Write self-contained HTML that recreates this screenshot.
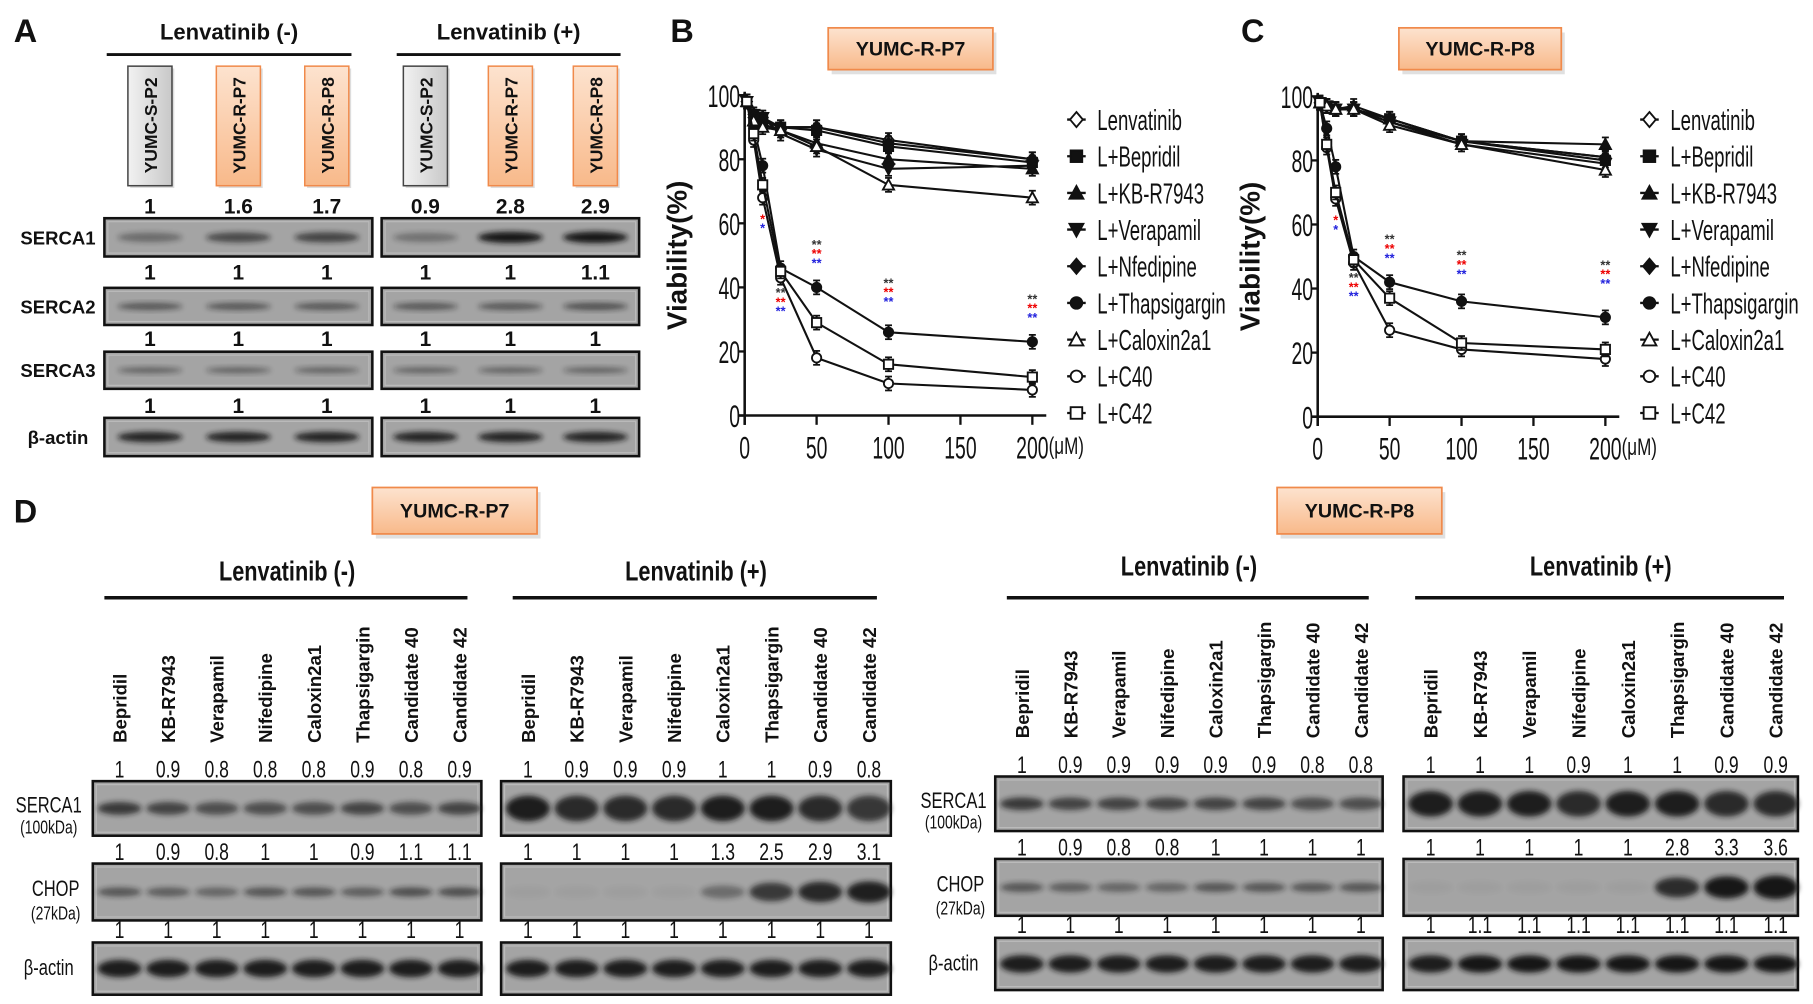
<!DOCTYPE html>
<html><head><meta charset="utf-8">
<style>
html,body{margin:0;padding:0;background:#fff;}
svg{display:block;}
text{font-family:"Liberation Sans",sans-serif;}
.b{font-weight:bold;}
</style></head>
<body>
<svg id="fig" width="1813" height="1004" viewBox="0 0 1563 865" preserveAspectRatio="none" xmlns="http://www.w3.org/2000/svg">
<defs>
<filter id="blur" x="-20%" y="-50%" width="140%" height="200%"><feGaussianBlur stdDeviation="2.2"/></filter>
<linearGradient id="org" x1="0" y1="0" x2="0" y2="1"><stop offset="0" stop-color="#fde3cf"/><stop offset="1" stop-color="#f8b98a"/></linearGradient>
<linearGradient id="gry" x1="0" y1="0" x2="1" y2="0"><stop offset="0" stop-color="#f2f2f2"/><stop offset="1" stop-color="#c8c8c8"/></linearGradient>
</defs>
<g id="layer"></g>
</svg>
<script>
// ---------- Chart data (panel B: YUMC-R-P7, panel C: YUMC-R-P8) ----------
const seriesNames = ["Lenvatinib","L+Bepridil","L+KB-R7943","L+Verapamil","L+Nfedipine","L+Thapsigargin","L+Caloxin2a1","L+C40","L+C42"];
const doses = [1.5, 6.25, 12.5, 25, 50, 100, 200];
const xTicks = [0, 50, 100, 150, 200];
const yTicks = [0, 20, 40, 60, 80, 100];
const p7Lenvatinib = [98, 94, 93, 90, 90, 86, 80];
const p7Bepridil = [98, 93, 92, 90, 89, 84, 79];
const p7KB = [98, 92, 91, 89, 85, 80, 77];
const p7Verapamil = [98, 94, 93, 88, 83, 77, 78];
const p7Nifedipine = [98, 93, 92, 90, 90, 85, 80];
const p7Thapsigargin = [98, 90, 78, 46, 40, 26, 23];
const p7Caloxin = [98, 92, 90, 89, 84, 72, 68];
const p7C40 = [98, 86, 68, 43, 18, 10, 8];
const p7C42 = [98, 88, 72, 45, 29, 16, 12];
const p8Lenvatinib = [98, 97, 96, 96, 92, 86, 81];
const p8Bepridil = [98, 97, 96, 96, 93, 86, 80];
const p8KB = [98, 97, 96, 97, 93, 86, 85];
const p8Verapamil = [98, 97, 96, 96, 92, 85, 79];
const p8Nifedipine = [98, 97, 96, 96, 93, 86, 81];
const p8Thapsigargin = [98, 90, 78, 50, 42, 36, 31];
const p8Caloxin = [98, 97, 96, 96, 91, 85, 77];
const p8C40 = [98, 84, 68, 48, 27, 21, 18];
const p8C42 = [98, 85, 70, 49, 37, 23, 21];
const p7Series = [p7Lenvatinib,p7Bepridil,p7KB,p7Verapamil,p7Nifedipine,p7Thapsigargin,p7Caloxin,p7C40,p7C42];
const p8Series = [p8Lenvatinib,p8Bepridil,p8KB,p8Verapamil,p8Nifedipine,p8Thapsigargin,p8Caloxin,p8C40,p8C42];
const markers = ["odiamond","square","triangle","itriangle","diamond","circle","otriangle","ocircle","osquare"];

// ---------- Blot quantification data ----------
const cellLines = ["YUMC-S-P2","YUMC-R-P7","YUMC-R-P8"];
const aSerca1Neg = [1, 1.6, 1.7];
const aSerca1Pos = [0.9, 2.8, 2.9];
const aSerca2Neg = [1, 1, 1];
const aSerca2Pos = [1, 1, 1.1];
const aSerca3Neg = [1, 1, 1];
const aSerca3Pos = [1, 1, 1];
const aActinNeg = [1, 1, 1];
const aActinPos = [1, 1, 1];
const drugs = ["Bepridil","KB-R7943","Verapamil","Nifedipine","Caloxin2a1","Thapsigargin","Candidate 40","Candidate 42"];
const p7NegSerca1 = [1,0.9,0.8,0.8,0.8,0.9,0.8,0.9];
const p7NegChop = [1,0.9,0.8,1,1,0.9,1.1,1.1];
const p7NegActin = [1,1,1,1,1,1,1,1];
const p7PosSerca1 = [1,0.9,0.9,0.9,1,1,0.9,0.8];
const p7PosChop = [1,1,1,1,1.3,2.5,2.9,3.1];
const p7PosActin = [1,1,1,1,1,1,1,1];
const p8NegSerca1 = [1,0.9,0.9,0.9,0.9,0.9,0.8,0.8];
const p8NegChop = [1,0.9,0.8,0.8,1,1,1,1];
const p8NegActin = [1,1,1,1,1,1,1,1];
const p8PosSerca1 = [1,1,1,0.9,1,1,0.9,0.9];
const p8PosChop = [1,1,1,1,1,2.8,3.3,3.6];
const p8PosActin = [1,1.1,1.1,1.1,1.1,1.1,1.1,1.1];

const NS = "http://www.w3.org/2000/svg";
const root = document.getElementById("layer");
function el(tag, attrs, parent, txt){
  const e = document.createElementNS(NS, tag);
  for (const k in attrs) e.setAttribute(k, attrs[k]);
  if (txt !== undefined) e.textContent = txt;
  (parent || root).appendChild(e);
  return e;
}
function grp(name, parent){
  const g = el("g", {}, parent);
  
  
  return g;
}
// sx: horizontal condense factor
function label(x, y, s, size, opts, parent, name, sx){
  const a = Object.assign({x:x, y:y, "font-size":size, "text-anchor":"middle", fill:"#111"}, opts||{});
  if (sx) { a.x = 0; a.y = 0; a.transform = "translate("+x+","+y+") scale("+sx+",1)"; }
  const t = el("text", a, parent, s);
  
  
  return t;
}
function titleBox(x, y, w, h, s, name, size){
  const g = grp(name);
  el("rect", {x:x+3, y:y+4, width:w, height:h, fill:"#ccc", opacity:0.6}, g);
  el("rect", {x:x, y:y, width:w, height:h, fill:"url(#org)", stroke:"#f08a4b", "stroke-width":1.5}, g);
  label(x+w/2, y+h/2+6, s, size||17, {class:"b"}, g, name + '-text');
}

// ---------- Panel letters ----------
label(22, 36, "A", 28, {class:"b"}, null, 'panel-a-letter');
label(588, 36, "B", 28, {class:"b"}, null, 'panel-b-letter');
label(1080, 36, "C", 28, {class:"b"}, null, 'panel-c-letter');
label(22, 450, "D", 28, {class:"b"}, null, 'panel-d-letter');

function band(g, cx, cy, w, h, dark){
  const o = Math.max(0.04, Math.min(1, dark));
  el("ellipse", {cx:cx, cy:cy, rx:w/2, ry:h/2, fill:"#151515", opacity:o, filter:"url(#blur)"}, g);
}
function blotBox(g, x, y, w, h){
  el("rect", {x:x, y:y, width:w, height:h, fill:"#a4a4a4", stroke:"#111", "stroke-width":2.2}, g);
  el("rect", {x:x+3, y:y+3, width:w-6, height:h-6, fill:"none", stroke:"#ccc", "stroke-width":1, opacity:0.6}, g);
}

// ---------- Panel A ----------
(function(){
  const gA = grp('panel-a');
  const groups = [{x0:90, x1:321, t:"Lenvatinib  (-)", lx:[92,303]}, {x0:329, x1:551, t:"Lenvatinib  (+)", lx:[342,535]}];
  const rows = [
    {name:"SERCA1", y:188, h:33, neg:aSerca1Neg, pos:aSerca1Pos, ny:177, scale:0.4, bh:9},
    {name:"SERCA2", y:248, h:32, neg:aSerca2Neg, pos:aSerca2Pos, ny:234, scale:0.55, bh:7},
    {name:"SERCA3", y:303, h:32, neg:aSerca3Neg, pos:aSerca3Pos, ny:291, scale:0.45, bh:6},
    {name:"β-actin", y:360, h:33, neg:aActinNeg, pos:aActinPos, ny:349, scale:0.9, bh:10}
  ];
  groups.forEach((G, gi) => {
    label((G.lx[0]+G.lx[1])/2, 34, G.t, 19, {class:"b"}, gA, 'lenvatinib-header');
    el("line", {x1:G.lx[0], y1:47, x2:G.lx[1], y2:47, stroke:"#111", "stroke-width":2.5}, gA);
    const w = G.x1 - G.x0;
    const lanes = [0,1,2].map(i => G.x0 + w*(0.17 + i*0.33));
    lanes.forEach((lx, i) => {
      const bx = lx - 19;
      const g = grp('cell-line-tag', gA);
      el("rect", {x:bx+2, y:59, width:38, height:103, fill:"#bbb", opacity:0.5}, g);
      el("rect", {x:bx, y:57, width:38, height:103, fill: i===0 ? "url(#gry)" : "url(#org)", stroke: i===0 ? "#444" : "#f08a4b", "stroke-width":1.3}, g);
      label(0, 0, cellLines[i], 15, {class:"b", transform:"translate("+(lx+6)+",108) rotate(-90)"}, g, 'cell-line-name');
    });
    rows.forEach(r => {
      const vals = gi===0 ? r.neg : r.pos;
      const g = grp('blot-' + r.name.toLowerCase() + (gi? '-plus':'-minus'), gA);
      blotBox(g, G.x0, r.y, w, r.h);
      vals.forEach((v, i) => {
        label(lanes[i], r.ny+7, String(v), 18, {class:"b"}, gA, 'band-value');
        band(g, lanes[i], r.y + r.h/2, 56, r.bh*(0.8+0.1*v), r.scale*v);
      });
    });
  });
  rows.forEach(r => label(50, r.y + r.h/2 + 6, r.name, 16, {class:"b"}, gA, 'row-label'));
})();

// ---------- Line charts ----------
function marker(g, kind, x, y, s){
  const open = kind[0]==="o";
  const k = kind.replace(/^o/,"");
  const st = {fill: open ? "#fff" : "#111", stroke:"#111", "stroke-width":1.6};
  if (k==="square") el("rect", Object.assign({x:x-s, y:y-s, width:2*s, height:2*s}, st), g);
  else if (k==="circle") el("circle", Object.assign({cx:x, cy:y, r:s}, st), g);
  else if (k==="diamond") el("polygon", Object.assign({points:[x,y-s*1.3,x+s*1.1,y,x,y+s*1.3,x-s*1.1,y].join(",")}, st), g);
  else if (k==="triangle") el("polygon", Object.assign({points:[x,y-s*1.2,x+s*1.2,y+s,x-s*1.2,y+s].join(",")}, st), g);
  else if (k==="itriangle") el("polygon", Object.assign({points:[x,y+s*1.2,x+s*1.2,y-s,x-s*1.2,y-s].join(",")}, st), g);
}
function lineChart(name, ox, oyTop, oy0, xEnd, series, starsAt, legX){
  const g = grp(name);
  const xs = v => ox + v/200*(xEnd-ox);
  const ys = v => oy0 - v/100*(oy0-oyTop);
  const ax = grp(name + '-axes', g);
  el("line", {x1:ox, y1:oyTop-3, x2:ox, y2:oy0+8, stroke:"#111", "stroke-width":2.2}, ax);
  el("line", {x1:ox-6, y1:oy0, x2:xEnd+12, y2:oy0, stroke:"#111", "stroke-width":2.2}, ax);
  yTicks.forEach(t => {
    el("line", {x1:ox-6, y1:ys(t), x2:ox, y2:ys(t), stroke:"#111", "stroke-width":2}, ax);
    label(ox-4, ys(t)+10, String(t), 27, {"text-anchor":"end"}, ax, 'y-tick-label', 0.62);
  });
  xTicks.forEach(t => {
    el("line", {x1:xs(t), y1:oy0, x2:xs(t), y2:oy0+8, stroke:"#111", "stroke-width":2}, ax);
    label(xs(t), oy0+37, String(t), 27, {}, ax, 'x-tick-label', 0.62);
  });
  label(xEnd+14, oy0+33, "(μM)", 21, {"text-anchor":"start"}, ax, 'x-axis-unit', 0.7);
  label(0, 0, "Viability(%)", 24, {class:"b", transform:"translate("+(ox-50)+","+((oyTop+oy0)/2)+") rotate(-90)"}, ax, 'y-axis-title');
  series.forEach((vals, si) => {
    const sg = grp('series-' + seriesNames[si].toLowerCase().replace(/[^a-z0-9]+/g,'-'), g);
    const pts = doses.map((d, i) => xs(d) + "," + ys(vals[i])).join(" ");
    el("polyline", {points:pts, fill:"none", stroke:"#111", "stroke-width":1.8}, sg);
    doses.forEach((d, i) => {
      el("line", {x1:xs(d), y1:ys(vals[i])-6, x2:xs(d), y2:ys(vals[i])+6, stroke:"#111", "stroke-width":1.8}, sg);
      el("line", {x1:xs(d)-3, y1:ys(vals[i])-6, x2:xs(d)+3, y2:ys(vals[i])-6, stroke:"#111", "stroke-width":1.5}, sg);
      el("line", {x1:xs(d)-3, y1:ys(vals[i])+6, x2:xs(d)+3, y2:ys(vals[i])+6, stroke:"#111", "stroke-width":1.5}, sg);
      marker(sg, markers[si], xs(d), ys(vals[i]), 4);
    });
  });
  starsAt.forEach(s => {
    s.c.forEach((c, j) => label(xs(s.x), ys(s.y) + j*8, s.t, 11, {fill:c, class:"b"}, g, 'significance-mark'));
  });
  const lg = grp(name + '-legend', g);
  seriesNames.forEach((n, i) => {
    const y = 103 + i*31.6;
    const e = grp('legend-entry', lg);
    el("line", {x1:legX-8, y1:y, x2:legX+8, y2:y, stroke:"#111", "stroke-width":2}, e);
    marker(e, markers[i], legX, y, 5);
    label(legX+18, y+9, n, 25, {"text-anchor":"start"}, e, 'legend-text', 0.64);
  });
}
lineChart('panel-b-chart', 642, 82, 358, 890, p7Series, [
  {x:12.5, y:60, t:"*", c:["#e00","#22d"]},
  {x:25, y:37, t:"**", c:["#333","#e00","#22d"]},
  {x:50, y:52, t:"**", c:["#333","#e00","#22d"]},
  {x:100, y:40, t:"**", c:["#333","#e00","#22d"]},
  {x:200, y:35, t:"**", c:["#333","#e00","#22d"]}
], 928);
lineChart('panel-c-chart', 1136, 83, 359, 1384, p8Series, [
  {x:12.5, y:60, t:"*", c:["#e00","#22d"]},
  {x:25, y:42, t:"**", c:["#333","#e00","#22d"]},
  {x:50, y:54, t:"**", c:["#333","#e00","#22d"]},
  {x:100, y:49, t:"**", c:["#333","#e00","#22d"]},
  {x:200, y:46, t:"**", c:["#333","#e00","#22d"]}
], 1422);
titleBox(714, 24, 142, 36, "YUMC-R-P7", 'panel-b-title');
titleBox(1206, 24, 140, 36, "YUMC-R-P8", 'panel-c-title');

// ---------- Panel D ----------
titleBox(321, 420, 142, 40, "YUMC-R-P7", 'panel-d-p7-title');
titleBox(1101, 420, 142, 40, "YUMC-R-P8", 'panel-d-p8-title');
function dPanel(name, x0, x1, t, lineY, dy, s1, chop, act, isPos){
  const g = grp(name);
  const w = x1 - x0;
  label((x0+x1)/2, 500+dy, t, 24, {class:"b"}, g, 'lenvatinib-header', 0.78);
  el("line", {x1:x0+10, y1:lineY, x2:x1-12, y2:lineY, stroke:"#111", "stroke-width":3}, g);
  const lanes = drugs.map((d, i) => x0 + w*(i+0.55)/8);
  lanes.forEach((lx, i) => label(0, 0, drugs[i], 16, {"text-anchor":"start", class:"b", transform:"translate("+(lx+6)+","+(640+dy)+") rotate(-90)"}, g, 'drug-label'));
  const rows = [
    {n:"serca1", y:673+dy, h:47, v:s1, ny:662+dy, dark: isPos ? 0.95 : 0.75, bh: isPos ? 22 : 11},
    {n:"chop", y:744+dy, h:49, v:chop, ny:733+dy, dark: isPos ? 0.3 : 0.55, bh: isPos ? 14 : 8},
    {n:"beta-actin", y:812+dy, h:45, v:act, ny:800+dy, dark:0.95, bh:15}
  ];
  rows.forEach(r => {
    const bg = grp('blot-' + r.n, g);
    blotBox(bg, x0, r.y, w, r.h);
    r.v.forEach((v, i) => {
      label(lanes[i], r.ny+8, String(v), 21, {}, g, 'band-value', 0.72);
      let d = r.dark * v;
      let bh = r.bh;
      if (isPos && r.n === "chop") { d = v < 1.1 ? 0.04 : 0.3*v; bh = 6 + 4*v; }
      band(bg, lanes[i], r.y + r.h/2, w/8 - 4, bh, d);
    });
  });
}
dPanel('panel-d-p7-minus', 80, 415, "Lenvatinib (-)", 515, 0, p7NegSerca1, p7NegChop, p7NegActin, false);
dPanel('panel-d-p7-plus', 432, 768, "Lenvatinib (+)", 515, 0, p7PosSerca1, p7PosChop, p7PosActin, true);
dPanel('panel-d-p8-minus', 858, 1192, "Lenvatinib (-)", 515, -4, p8NegSerca1, p8NegChop, p8NegActin, false);
dPanel('panel-d-p8-plus', 1210, 1550, "Lenvatinib (+)", 515, -4, p8PosSerca1, p8PosChop, p8PosActin, true);
[[42,0],[822,-4]].forEach(p => {
  const g = grp('panel-d-row-labels');
  label(p[0], 700+p[1], "SERCA1", 19, {}, g, 'row-label', 0.75);
  label(p[0], 718+p[1], "(100kDa)", 16, {}, g, 'row-label', 0.75);
  label(p[0]+6, 772+p[1], "CHOP", 19, {}, g, 'row-label', 0.75);
  label(p[0]+6, 792+p[1], "(27kDa)", 16, {}, g, 'row-label', 0.75);
  label(p[0], 840+p[1], "β-actin", 19, {}, g, 'row-label', 0.75);
});
</script>
</body></html>
